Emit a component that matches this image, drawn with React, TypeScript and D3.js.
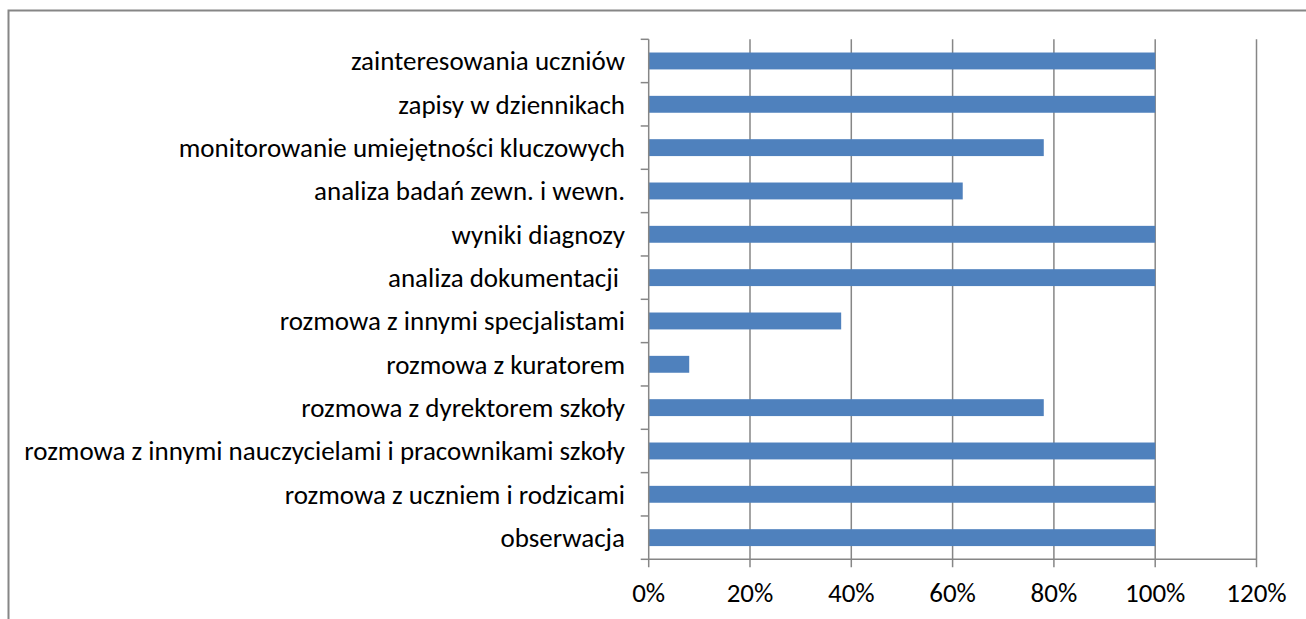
import React, { useEffect, useRef } from "react";
import * as d3 from "d3";

const categories = [
  "zainteresowania uczniów",
  "zapisy w dziennikach",
  "monitorowanie umiejętności kluczowych",
  "analiza badań zewn. i wewn.",
  "wyniki diagnozy",
  "analiza dokumentacji ",
  "rozmowa z innymi specjalistami",
  "rozmowa z kuratorem",
  "rozmowa z dyrektorem szkoły",
  "rozmowa z innymi nauczycielami i pracownikami szkoły",
  "rozmowa z uczniem i rodzicami",
  "obserwacja",
];
const values = [100, 100, 78, 62, 100, 100, 38, 8, 78, 100, 100, 100];
const xTicks = [0, 20, 40, 60, 80, 100, 120];

const W = 1306;
const H = 619;
const FONT = "Carlito, Calibri, 'Open Sans', sans-serif";

export default function App() {
  const ref = useRef<SVGSVGElement>(null);
  useEffect(() => {
    const svg = d3.select(ref.current);
    svg.selectAll("*").remove();
    const gray = "#868686";
    const x = d3.scaleLinear().domain([0, 120]).range([648.7, 1256.5]);
    const y = d3.scaleBand().domain(categories).range([39.3, 559.3]).paddingInner(0.61).paddingOuter(0.305);
    const y0 = 39.3, y1 = 559.3;
    const step = (y1 - y0) / categories.length;

    svg.append("rect").attr("x", 8.5).attr("y", 10.5).attr("width", 1310).attr("height", 700)
      .attr("fill", "white").attr("stroke", gray).attr("stroke-width", 2);

    // gridlines
    svg.append("g").selectAll("line").data(xTicks.slice(1)).join("line")
      .attr("x1", d => x(d)).attr("x2", d => x(d)).attr("y1", y0).attr("y2", y1 + 8)
      .attr("stroke", gray).attr("stroke-width", 1.5);

    // bars
    svg.append("g").selectAll("rect").data(categories).join("rect")
      .attr("x", x(0)).attr("y", d => y(d)!).attr("height", y.bandwidth())
      .attr("width", (d, i) => x(values[i]) - x(0)).attr("fill", "#4F81BD");

    // axes
    svg.append("line").attr("x1", x(0)).attr("x2", x(0)).attr("y1", y0).attr("y2", y1 + 8)
      .attr("stroke", gray).attr("stroke-width", 1.5);
    svg.append("line").attr("x1", x(0)).attr("x2", x(120)).attr("y1", y1).attr("y2", y1)
      .attr("stroke", gray).attr("stroke-width", 1.5);
    // category ticks
    svg.append("g").selectAll("line").data(d3.range(categories.length + 1)).join("line")
      .attr("x1", x(0) - 8).attr("x2", x(0)).attr("y1", i => y0 + i * step).attr("y2", i => y0 + i * step)
      .attr("stroke", gray).attr("stroke-width", 1.5);

    // labels
    svg.append("g").selectAll("text").data(categories).join("text")
      .attr("x", 625).attr("y", d => y(d)! + y.bandwidth() / 2).attr("dy", "0.35em")
      .attr("text-anchor", "end").attr("font-family", FONT).attr("font-size", 27).attr("fill", "#000")
      .style("white-space", "pre")
      .text(d => d);

    svg.append("g").selectAll("text").data(xTicks).join("text")
      .attr("x", d => x(d)).attr("y", 593).attr("dy", "0.35em")
      .attr("text-anchor", "middle").attr("font-family", FONT).attr("font-size", 27).attr("fill", "#000")
      .text(d => `${d}%`);
  }, []);
  return (
    <svg ref={ref} width={W} height={H} style={{ position: "absolute", left: 0, top: 0, display: "block" }} />
  );
}
